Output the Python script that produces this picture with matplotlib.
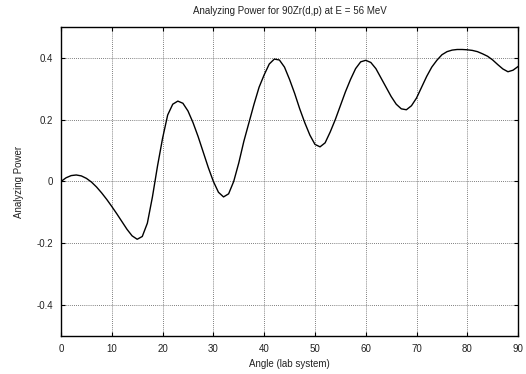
import matplotlib
matplotlib.use('Agg')
import matplotlib.pyplot as plt

# Angle (deg, lab system) and analyzing power
angle = list(range(0, 91))
power = [0.0, 0.012, 0.019, 0.021, 0.018, 0.01, -0.002, -0.018, -0.037, -0.058,
         -0.081, -0.105, -0.13, -0.155, -0.176, -0.187, -0.178, -0.135, -0.05, 0.05,
         0.14, 0.215, 0.25, 0.26, 0.253, 0.228, 0.19, 0.145, 0.095, 0.045,
         0.0, -0.035, -0.05, -0.04, 0.0, 0.06, 0.13, 0.19, 0.25, 0.305,
         0.345, 0.38, 0.396, 0.393, 0.37, 0.33, 0.285, 0.235, 0.19, 0.15,
         0.12, 0.112, 0.125, 0.16, 0.2, 0.245, 0.29, 0.33, 0.365, 0.387,
         0.392, 0.385, 0.365, 0.335, 0.305, 0.275, 0.25, 0.235, 0.232, 0.245,
         0.27, 0.305, 0.34, 0.37, 0.392, 0.41, 0.42, 0.425, 0.427, 0.427,
         0.426, 0.424, 0.42, 0.413, 0.405, 0.393, 0.378, 0.364, 0.355, 0.36,
         0.372]

x_ticks = [0, 10, 20, 30, 40, 50, 60, 70, 80, 90]
y_ticks = [-0.4, -0.2, 0, 0.2, 0.4]
y_labels = ['-0.4', '-0.2', '0', '0.2', '0.4']

plt.rcParams['font.family'] = ['Liberation Sans', 'DejaVu Sans']

fig = plt.figure(figsize=(5.26, 3.74), dpi=100)
ax = fig.add_axes([0.116, 0.1016, 0.869, 0.8264])

ax.plot(angle, power, color='black', linewidth=1.0)

ax.set_xlim(0, 90)
ax.set_ylim(-0.5, 0.5)
ax.set_xticks(x_ticks)
ax.set_yticks(y_ticks)
ax.set_yticklabels(y_labels)
# short inward ticks like gnuplot
ax.tick_params(direction='in', length=3, width=0.8, labelsize=7, pad=5.5,
               colors='black', labelcolor='#222222', top=True, right=True)

# gnuplot-like dotted grid
ax.grid(True, color='#555555', linestyle=(0, (1, 1.5)), linewidth=0.6)
for s in ax.spines.values():
    s.set_linewidth(1.0)
    s.set_color('black')

ax.set_title('Analyzing Power for 90Zr(d,p) at E = 56 MeV', fontsize=7, pad=9,
             color='#222222')
ax.set_xlabel('Angle (lab system)', fontsize=7, labelpad=4, color='#222222')
ax.set_ylabel('Analyzing Power', fontsize=7, labelpad=9, color='#222222')

fig.savefig('out.png', dpi=100)
